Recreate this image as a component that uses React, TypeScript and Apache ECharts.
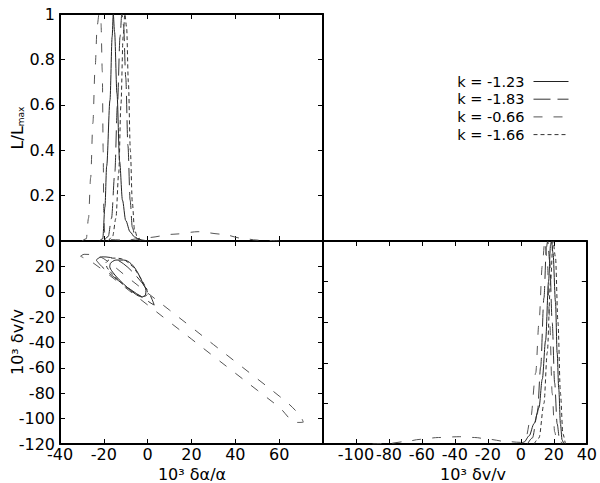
import React, { useEffect, useRef } from "react";
import * as echarts from "echarts";

// Legend labels (one per model)
const kLabels = ["k = -1.23", "k = -1.83", "k = -0.66", "k = -1.66"];

// Top-left panel: marginal likelihood L/Lmax vs 10^3 δα/α
const alphaK123 = [[-22, 0], [-20.5, 0.01], [-19.5, 0.15], [-18.7, 0.33], [-17.2, 0.62], [-16.2, 0.9], [-15.7, 1], [-15.1, 0.92], [-14, 0.65], [-12.8, 0.35], [-11.5, 0.18], [-10, 0.09], [-8, 0.04], [-6, 0.018], [-3.5, 0.005], [0, 0]];
const alphaK183 = [[-20, 0], [-18, 0.02], [-16.5, 0.1], [-15, 0.3], [-13.8, 0.6], [-12.6, 0.9], [-11.8, 1], [-11, 0.95], [-10, 0.72], [-9, 0.42], [-8, 0.18], [-7, 0.06], [-5.5, 0.01], [-3, 0]];
const alphaK066 = [[-30, 0], [-28, 0.01], [-27, 0.1], [-26, 0.28], [-25, 0.52], [-24, 0.76], [-23, 0.95], [-22.2, 1], [-21.3, 0.96], [-20.7, 0.75], [-20.3, 0.4], [-20, 0.1], [-19.5, 0.02], [-17, 0.006], [-10, 0.004], [0, 0.015], [12, 0.03], [23, 0.041], [34, 0.03], [43, 0.012], [50, 0.004], [60, 0]];
const alphaK166 = [[-18, 0], [-16, 0.02], [-14.5, 0.1], [-13.2, 0.3], [-12.2, 0.6], [-11.2, 0.9], [-10.4, 1], [-9.6, 0.94], [-8.8, 0.7], [-7.9, 0.4], [-7, 0.17], [-6, 0.05], [-4.5, 0.01], [-2, 0]];

// Bottom-left panel: contours in (10^3 δα/α, 10^3 δv/v)
const contourK123 = [[-17, 22.5], [-14.5, 25], [-11, 25], [-7.5, 22], [-4.5, 15], [-2, 6], [-0.8, 1], [-1, -2.5], [-2.5, -4], [-5, -2.5], [-9, 3], [-13, 9.5], [-16, 15.5], [-17.3, 20], [-17, 22.5]];
const contourK183 = [[-23.5, 25], [-21, 27.5], [-17, 27], [-11, 22], [-5, 12], [0, 1], [2, -6], [3, -10.5], [1.5, -9], [-2, -5], [-8, 2], [-15, 11], [-21, 20], [-23.5, 25]];
const contourK066 = [[-30.6, 28], [-29, 29.5], [-25, 29], [-20, 26], [-10, 12.5], [0, -1], [10, -14.5], [20, -28], [30, -41.6], [40, -55.1], [50, -68.6], [60, -82.2], [66, -91], [70, -99], [71, -102.8], [68, -103], [60, -91], [50, -77.6], [40, -64.2], [30, -50.8], [20, -37.3], [10, -23.9], [0, -10.4], [-10, 3], [-20, 16.5], [-26, 24], [-29.5, 27], [-30.6, 28]];
const contourK166 = [[-19, 23], [-16, 26.5], [-12, 26], [-7, 20], [-3, 10], [-0.5, 2], [0, -1.5], [-1.5, -3.5], [-5, -2], [-10, 4], [-15, 12], [-18.5, 19], [-19, 23]];

// Bottom-right panel: marginal likelihood vs 10^3 δv/v
const vK123 = [[0, 0], [2, 0.01], [5, 0.04], [8, 0.1], [11, 0.18], [13, 0.32], [15, 0.51], [16.8, 0.8], [18, 0.98], [18.6, 1], [19.5, 0.94], [21, 0.7], [22, 0.45], [23, 0.27], [24, 0.1], [25, 0.02], [26, 0]];
const vK183 = [[4, 0], [7, 0.03], [10, 0.15], [12, 0.38], [14, 0.72], [15.5, 0.97], [16.3, 1], [17.5, 0.9], [19, 0.6], [20.5, 0.3], [22, 0.1], [23.5, 0.02], [25, 0]];
const vK066 = [[-90, 0], [-80, 0.003], [-70, 0.012], [-61, 0.023], [-50, 0.032], [-37, 0.036], [-28, 0.032], [-19, 0.023], [-10, 0.013], [0, 0.008], [3, 0.03], [6, 0.13], [9, 0.35], [11, 0.6], [13, 0.88], [14.5, 1], [16, 0.9], [17.5, 0.6], [19, 0.25], [20.5, 0.06], [22, 0.005], [24, 0]];
const vK166 = [[8, 0], [11, 0.03], [14, 0.2], [16, 0.45], [18, 0.8], [19.5, 1], [21, 0.92], [22.5, 0.6], [24, 0.25], [25.5, 0.05], [27, 0]];

const alphaTicks = { min: -40, max: 80, interval: 20 };
const vTicks = { min: -120, max: 40, interval: 20 };
const likeTicks = { min: 0, max: 1, interval: 0.2 };

const FONT = "DejaVu Sans";
const FS = 16;

export default function App() {
  const ref = useRef<HTMLDivElement>(null);
  useEffect(() => {
    if (!ref.current) return;
    const chart = echarts.init(ref.current, null, { renderer: "svg" });

    const styles = [
      { color: "#222", type: "solid" as any },
      { color: "#333", type: [17, 7] },
      { color: "#555", type: [9, 11] },
      { color: "#333", type: [4, 3] },
    ];
    const margA = [alphaK123, alphaK183, alphaK066, alphaK166];
    const conts = [contourK123, contourK183, contourK066, contourK166];
    const margV = [vK123, vK183, vK066, vK166];

    const axisCommon = (extra: any) => ({
      type: "value",
      splitLine: { show: false },
      axisLine: { show: true, onZero: false, lineStyle: { color: "#000", width: 2 } },
      axisTick: { show: true, inside: true, length: 5, lineStyle: { color: "#000", width: 1 } },
      axisLabel: { show: false },
      ...extra,
    });
    const labelStyle = { show: true, color: "#000", fontSize: FS, fontFamily: FONT };

    const xAxis = [
      axisCommon({ gridIndex: 0, position: "bottom", ...alphaTicks }),
      axisCommon({ gridIndex: 0, position: "top", ...alphaTicks }),
      axisCommon({ gridIndex: 1, position: "bottom", ...alphaTicks, axisLabel: { ...labelStyle, margin: 2, showMaxLabel: false } }),
      axisCommon({ gridIndex: 1, position: "top", ...alphaTicks }),
      axisCommon({ gridIndex: 2, position: "bottom", ...vTicks, axisLabel: { ...labelStyle, margin: 2, showMinLabel: false } }),
      axisCommon({ gridIndex: 2, position: "top", ...vTicks }),
    ];
    const yAxis = [
      axisCommon({ gridIndex: 0, position: "left", ...likeTicks, axisLabel: { ...labelStyle, margin: 5 } }),
      axisCommon({ gridIndex: 0, position: "right", ...likeTicks }),
      axisCommon({ gridIndex: 1, position: "left", ...vTicks, axisLabel: { ...labelStyle, margin: 5, showMaxLabel: false } }),
      axisCommon({ gridIndex: 1, position: "right", ...vTicks }),
      axisCommon({ gridIndex: 2, position: "left", ...likeTicks }),
      axisCommon({ gridIndex: 2, position: "right", ...likeTicks }),
    ];

    const series: any[] = [];
    kLabels.forEach((name, i) => {
      const ls = { color: styles[i].color, width: 1, type: styles[i].type };
      const base = { type: "line", name, symbol: "none", lineStyle: ls, itemStyle: { color: styles[i].color }, z: 3 };
      series.push({ ...base, xAxisIndex: 0, yAxisIndex: 0, data: margA[i], smooth: 0.3, smoothMonotone: "x" });
      series.push({ ...base, xAxisIndex: 2, yAxisIndex: 2, data: conts[i], smooth: 0.35 });
      series.push({ ...base, xAxisIndex: 4, yAxisIndex: 4, data: margV[i], smooth: 0.3, smoothMonotone: "x" });
    });

    const option: any = {
      animation: false,
      textStyle: { fontFamily: FONT },
      grid: [
        { left: 60, top: 14, width: 263, height: 227 },
        { left: 60, top: 241, width: 263, height: 203 },
        { left: 323, top: 241, width: 265, height: 203 },
      ],
      xAxis,
      yAxis,
      legend: {
        orient: "vertical",
        right: 26,
        top: 69,
        align: "right",
        itemWidth: 35,
        itemHeight: 15,
        itemGap: 2.7,
        selectedMode: false,
        data: kLabels,
        itemStyle: { opacity: 0 },
        lineStyle: { width: 1 },
        textStyle: { fontSize: 14.5, color: "#000", fontFamily: FONT, padding: [0, 4, 0, 0] },
      },
      graphic: [
        {
          type: "text",
          x: 17,
          y: 128,
          rotation: Math.PI / 2,
          style: {
            text: "{a|L/L}{b|max}",
            align: "center",
            verticalAlign: "middle",
            fill: "#000",
            rich: {
              a: { fontSize: FS, fontFamily: FONT, lineHeight: 16, verticalAlign: "top", fill: "#000" },
              b: { fontSize: 9, fontFamily: FONT, lineHeight: 9, verticalAlign: "bottom", padding: [9, 0, 0, 0], fill: "#000" },
            },
          },
        },
        {
          type: "text",
          x: 17,
          y: 342,
          rotation: Math.PI / 2,
          style: { text: "10³ δv/v", align: "center", verticalAlign: "middle", fontSize: FS, fontFamily: FONT, fill: "#000" },
        },
        {
          type: "text",
          x: 192,
          y: 474,
          style: { text: "10³ δα/α", align: "center", verticalAlign: "middle", fontSize: FS, fontFamily: FONT, fill: "#000" },
        },
        {
          type: "text",
          x: 473,
          y: 474,
          style: { text: "10³ δv/v", align: "center", verticalAlign: "middle", fontSize: FS, fontFamily: FONT, fill: "#000" },
        },
      ],
      series,
    };
    chart.setOption(option);
    return () => chart.dispose();
  }, []);
  return <div ref={ref} style={{ position: "fixed", left: 0, top: 0, width: 600, height: 483, background: "#fff" }} />;
}
